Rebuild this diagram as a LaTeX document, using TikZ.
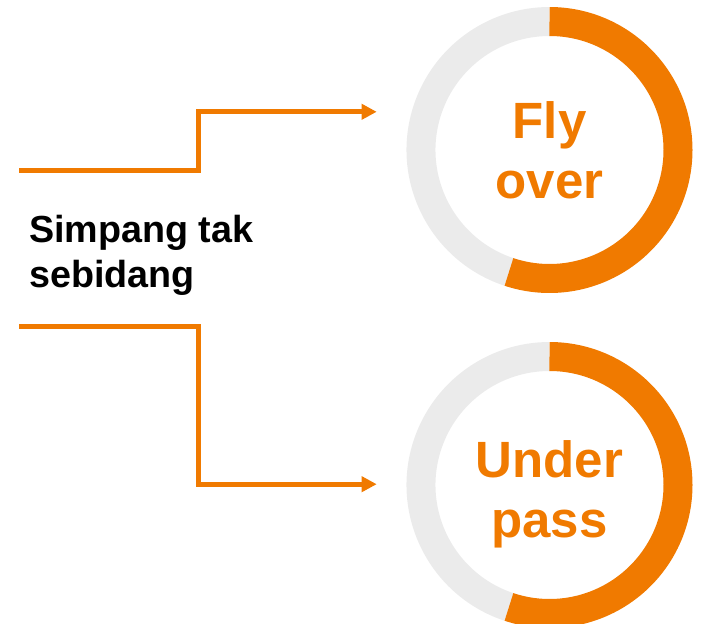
\documentclass[tikz,border=0pt]{standalone}
\usepackage{fontspec}
\setmainfont{Liberation Sans}
\usetikzlibrary{arrows.meta}
\definecolor{ringorange}{RGB}{240,122,0}
\definecolor{ringgray}{RGB}{235,235,235}
\begin{document}
\begin{tikzpicture}[x=1pt,y=-1pt,
	link/.style={draw=ringorange,line width=5pt,-{Triangle[length=15pt,width=15pt]}},
	ringlabel/.style={text=ringorange,font=\bfseries\fontsize{51}{60}\selectfont,align=center,inner sep=0pt}]
	\useasboundingbox (0,0) rectangle (702,624);

	\foreach \y in {150,485}{
		\draw[ringgray,line width=29pt] (549.5,\y) ++(108.4:128.5) arc[start angle=108.4,end angle=270,radius=128.5];
		\draw[ringorange,line width=29pt] (549.5,\y) ++(270:128.5) arc[start angle=270,end angle=468.4,radius=128.5];
	}
	\node[ringlabel] (fly) at (549.5,150) {Fly\\over};
	\node[ringlabel] (under) at (549.5,494) {Under\\pass};

	\node[anchor=west,align=left,inner sep=0pt,font=\bfseries\fontsize{37.7}{45}\selectfont] (simpang) at (29,255) {Simpang tak\\sebidang};

	\coordinate (topin) at (19.3,170.7);
	\coordinate (flyin) at (376.7,111.8);
	\coordinate (botin) at (19.3,326.8);
	\coordinate (underin) at (376.7,484.2);
	\draw[link] (topin) -- ++(179.2,0) |- (flyin);
	\draw[link] (botin) -- ++(179.2,0) |- (underin);
\end{tikzpicture}
\end{document}
